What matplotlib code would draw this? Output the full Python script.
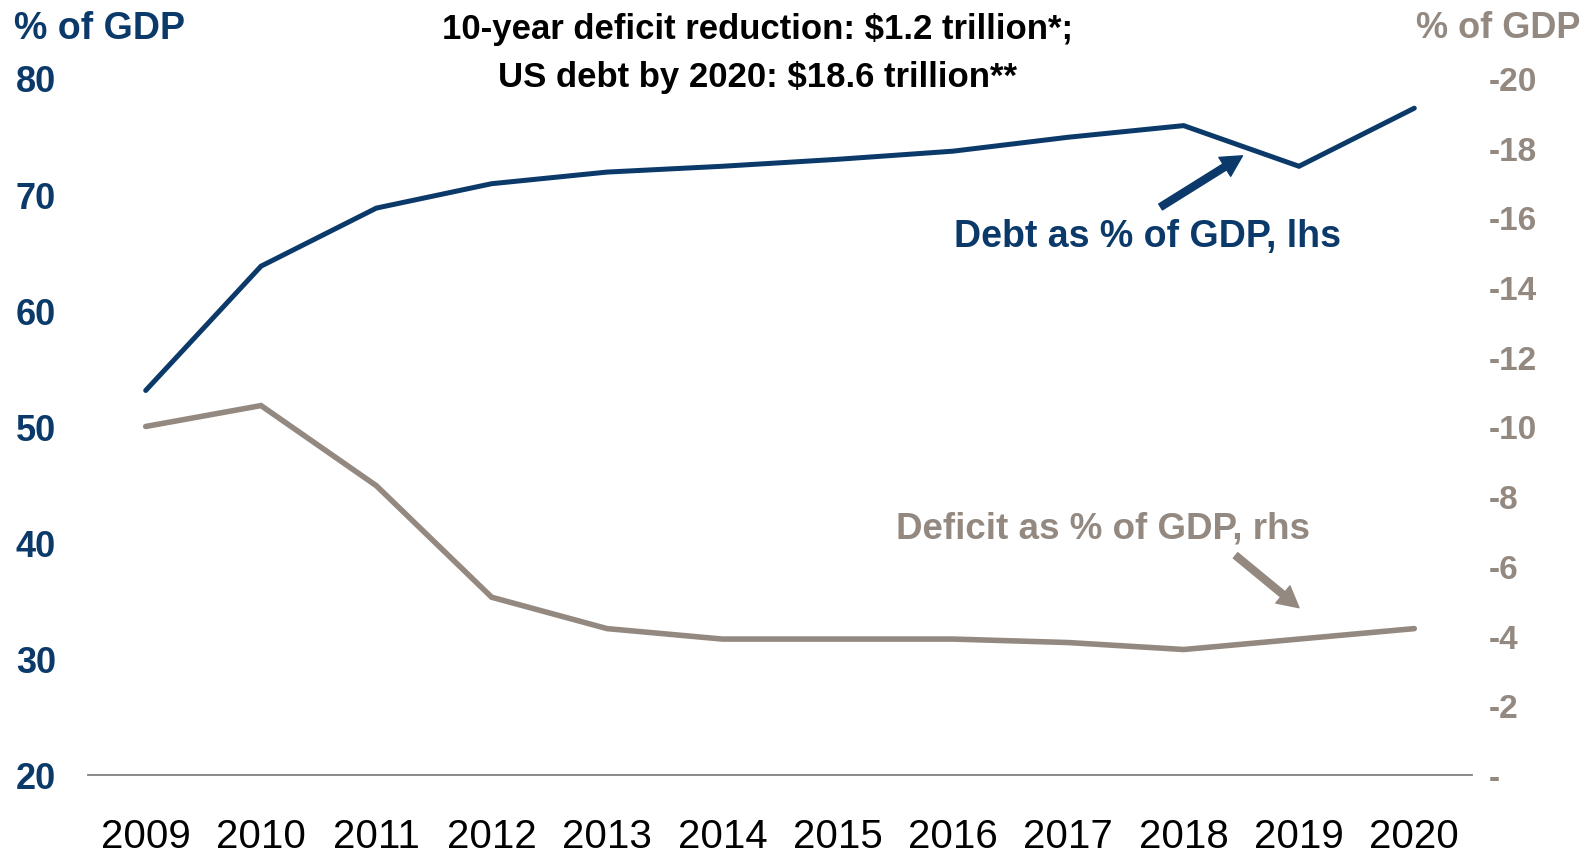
import matplotlib
matplotlib.use("Agg")
import matplotlib.pyplot as plt
from matplotlib import font_manager

# Data: US federal debt and deficit, % of GDP
years = [2009, 2010, 2011, 2012, 2013, 2014, 2015, 2016, 2017, 2018, 2019, 2020]
debt_pct = [53.1, 63.8, 68.8, 70.9, 71.9, 72.4, 73.0, 73.7, 74.9, 75.9, 72.4, 77.4]
deficit_pct = [-10.0, -10.6, -8.3, -5.1, -4.2, -3.9, -3.9, -3.9, -3.8, -3.6, -3.9, -4.2]

left_ticks = [20, 30, 40, 50, 60, 70, 80]
right_ticks = [0, -2, -4, -6, -8, -10, -12, -14, -16, -18, -20]
right_tick_labels = ["-", "-2", "-4", "-6", "-8", "-10", "-12", "-14", "-16", "-18", "-20"]

title_lines = ["10-year deficit reduction: $1.2 trillion*;", "US debt by 2020: $18.6 trillion**"]

NAVY = "#0b3a6a"
TAUPE = "#938980"

available = set(font_manager.get_font_names())
narrow = "Liberation Sans Narrow" if "Liberation Sans Narrow" in available else "Liberation Sans"
plt.rcParams["font.family"] = [narrow, "DejaVu Sans"]

fig = plt.figure(figsize=(15.92, 8.53), dpi=100)
ax = fig.add_axes([0.0553, 0.0903, 0.8693, 0.8171])
ax2 = ax.twinx()

ax.plot(years, debt_pct, color=NAVY, lw=3.6, solid_joinstyle="miter",
        solid_capstyle="round", zorder=3)
ax2.plot(years, deficit_pct, color=TAUPE, lw=4.0, solid_joinstyle="miter",
         solid_capstyle="round", zorder=3)

ax.set_xlim(2008.5, 2020.5)
ax.set_ylim(20, 80)
ax2.set_ylim(0, -20)

ax.set_xticks(years)
ax.set_xticklabels([str(y) for y in years], fontsize=29, color="black")
ax.set_yticks(left_ticks)
ax.set_yticklabels([str(t) for t in left_ticks], fontsize=26, fontweight="bold", color=NAVY)
ax2.set_yticks(right_ticks)
ax2.set_yticklabels(right_tick_labels, fontsize=24, fontweight="bold", color=TAUPE)

ax.tick_params(axis="x", length=0, pad=30)
ax.tick_params(axis="y", length=0, pad=23)
ax2.tick_params(axis="y", length=0, pad=12)

for a in (ax, ax2):
    for side in ("top", "left", "right", "bottom"):
        a.spines[side].set_visible(False)
ax.spines["bottom"].set_visible(True)
ax.spines["bottom"].set_color("#808080")
ax.spines["bottom"].set_linewidth(1.3)

# Axis unit captions
fig.text(0.009, 0.966, "% of GDP", fontsize=27, fontweight="bold", color=NAVY, ha="left", va="center")
fig.text(0.993, 0.967, "% of GDP", fontsize=26, fontweight="bold", color=TAUPE, ha="right", va="center")

# Headline, two centred lines
fig.text(0.476, 0.965, title_lines[0], fontsize=25, fontweight="bold",
         color="black", ha="center", va="center")
fig.text(0.476, 0.909, title_lines[1], fontsize=25, fontweight="bold",
         color="black", ha="center", va="center")

# Series call-outs
ax.annotate("", xy=(2018.51, 73.3), xytext=(2017.8, 68.9),
            arrowprops=dict(facecolor=NAVY, edgecolor=NAVY, width=5, headwidth=16, headlength=15))
ax.text(2017.69, 66.4, "Debt as % of GDP, lhs", fontsize=27, fontweight="bold",
        color=NAVY, ha="center", va="center")
ax.annotate("", xy=(2019.0, 34.4), xytext=(2018.45, 38.9),
            arrowprops=dict(facecolor=TAUPE, edgecolor=TAUPE, width=5, headwidth=16, headlength=15))
ax.text(2017.3, 41.3, "Deficit as % of GDP, rhs", fontsize=26.5, fontweight="bold",
        color=TAUPE, ha="center", va="center")

fig.savefig("out.png", dpi=100)
